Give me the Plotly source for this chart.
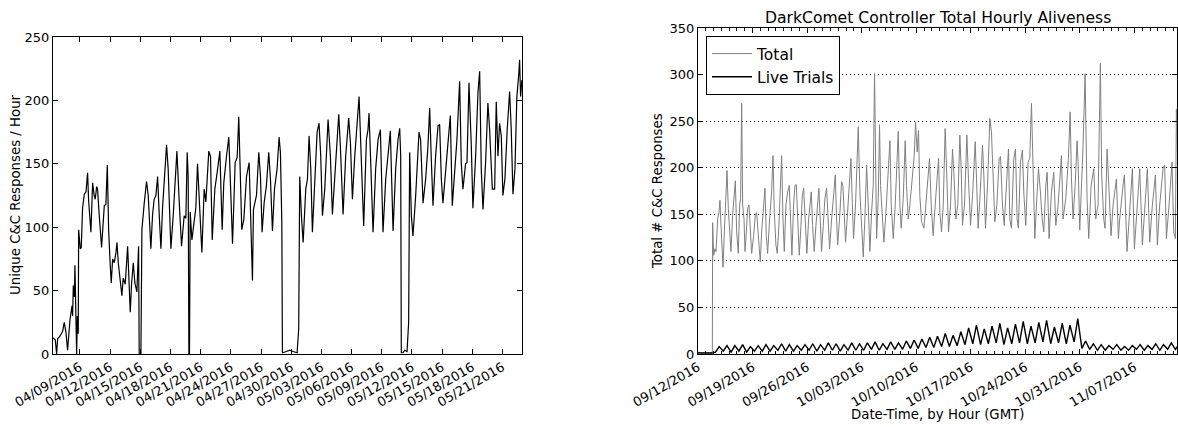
import pandas as pd
import plotly.graph_objects as go

# ---------------- data: left panel (days after 2016-04-09 00:00 GMT) ----------------
left_start = "2016-04-09"
left_days = [
    -2.72, -2.45, -2.32, -2.22, -1.99, -1.72, -1.56, -1.39, -1.23, -0.99, -0.79, -0.73, -0.66, -0.56,
    -0.50, -0.40, -0.33, -0.26, -0.20, -0.17, -0.13, 0.03, 0.13, 0.26, 0.43, 0.60, 0.76, 0.86, 1.09,
    1.26, 1.39, 1.52, 1.66, 1.75, 1.92, 2.15, 2.42, 2.58, 2.72, 2.85, 3.01, 3.11, 3.25, 3.41, 3.58,
    3.68, 3.81, 3.97, 4.07, 4.17, 4.30, 4.50, 4.74, 4.90, 5.00, 5.13, 5.30, 5.46, 5.66, 5.83, 5.89,
    6.06, 6.16, 6.39, 6.62, 6.79, 6.89, 7.05, 7.22, 7.38, 7.55, 7.72, 7.88, 8.05, 8.21, 8.38, 8.61,
    8.77, 8.94, 9.04, 9.27, 9.44, 9.64, 9.87, 10.10, 10.36, 10.53, 10.66, 10.76, 10.83, 10.89, 10.96,
    11.13, 11.36, 11.52, 11.69, 11.85, 12.12, 12.35, 12.52, 12.81, 12.98, 13.15, 13.41, 13.64, 13.91,
    14.14, 14.30, 14.57, 14.80, 14.97, 15.17, 15.43, 15.63, 15.79, 15.89, 16.09, 16.29, 16.56, 16.82,
    17.05, 17.15, 17.25, 17.55, 17.78, 17.95, 18.11, 18.31, 18.54, 18.77, 18.94, 19.14, 19.34, 19.60,
    19.80, 19.93, 20.07, 20.13, 20.53, 20.86, 21.19, 21.59, 21.75, 21.85, 22.02, 22.19, 22.45, 22.62,
    22.78, 22.95, 23.11, 23.34, 23.58, 23.77, 23.94, 24.11, 24.34, 24.67, 24.90, 25.10, 25.40, 25.73,
    25.89, 26.16, 26.42, 26.72, 26.89, 27.09, 27.32, 27.48, 27.75, 28.21, 28.48, 28.64, 28.74, 28.91,
    29.14, 29.40, 29.64, 29.87, 30.13, 30.40, 30.63, 30.86, 31.13, 31.39, 31.62, 31.79, 31.89, 31.95,
    32.12, 32.28, 32.52, 32.68, 32.78, 32.95, 33.11, 33.38, 33.71, 33.87, 34.11, 34.37, 34.60, 34.77,
    34.93, 35.10, 35.36, 35.60, 35.76, 35.93, 36.09, 36.36, 36.59, 36.82, 37.02, 37.25, 37.48, 37.75,
    37.91, 38.08, 38.34, 38.48, 38.68, 38.91, 39.07, 39.34, 39.57, 39.74, 39.90, 40.07, 40.33, 40.56,
    40.73, 41.00, 41.23, 41.39, 41.56, 41.72, 41.89, 42.05, 42.25, 42.48, 42.72, 42.88, 43.05, 43.25,
    43.44, 43.64, 43.71, 43.81, 43.94,
]
left_values = [
    13, 11, 0, 12, 14, 18, 25, 17, 3, 27, 38, 30, 54, 45,
    70, 0, 0, 30, 20, 16, 98, 83, 84, 115, 126, 128, 143, 121, 96,
    135, 126, 122, 132, 130, 109, 84, 117, 118, 149, 98, 70, 56, 75, 72, 80,
    88, 72, 62, 55, 46, 60, 55, 85, 60, 33, 55, 72, 56, 49, 85, 0,
    0, 98, 119, 136, 125, 109, 83, 110, 122, 125, 140, 110, 83, 115, 138, 165,
    146, 100, 83, 109, 130, 160, 120, 85, 109, 107, 159, 140, 0, 0, 112,
    90, 105, 115, 150, 125, 80, 130, 120, 160, 156, 90, 130, 143, 160,
    98, 135, 156, 171, 133, 87, 151, 155, 187, 156, 98, 106, 140, 151,
    98, 58, 114, 125, 159, 140, 96, 119, 133, 159, 138, 97, 130, 146,
    171, 159, 104, 1, 2, 3, 2, 1, 20, 140, 109, 88, 130, 138,
    172, 146, 96, 130, 175, 182, 156, 109, 130, 185, 156, 110, 146, 189,
    164, 110, 156, 186, 167, 122, 156, 177, 203, 101, 169, 177, 190, 151,
    96, 146, 169, 177, 96, 138, 159, 176, 97, 146, 169, 178, 156, 1,
    1, 3, 2, 25, 159, 109, 93, 125, 175, 169, 119, 138, 164, 194,
    154, 117, 156, 180, 181, 138, 119, 143, 167, 188, 117, 146, 169, 215,
    151, 130, 150, 151, 214, 164, 115, 156, 206, 223, 146, 114, 151, 198,
    177, 130, 130, 199, 156, 182, 172, 125, 138, 177, 207, 177, 126, 146,
    203, 222, 232, 203, 216,
]

# ---------------- data: right panel (days after 2016-09-12 00:00 GMT) ----------------
right_start = "2016-09-12"
total_days = [
    0.00, 0.50, 1.00, 1.50, 1.84, 1.88, 2.01, 2.18, 2.31, 2.52, 2.69, 2.82, 2.91, 3.03, 3.21, 3.38,
    3.55, 3.72, 3.89, 4.06, 4.23, 4.44, 4.62, 4.79, 4.96, 5.17, 5.34, 5.47, 5.60, 5.73, 5.90, 6.03,
    6.20, 6.37, 6.54, 6.71, 6.88, 7.14, 7.35, 7.52, 7.74, 7.99, 8.16, 8.38, 8.59, 8.76, 8.93, 9.19,
    9.44, 9.62, 9.79, 10.00, 10.17, 10.38, 10.56, 10.73, 10.90, 11.07, 11.28, 11.50, 11.71, 11.88,
    12.05, 12.26, 12.44, 12.61, 12.78, 12.99, 13.21, 13.38, 13.55, 13.72, 13.97, 14.19, 14.40, 14.53,
    14.70, 14.91, 15.13, 15.34, 15.51, 15.68, 15.85, 16.07, 16.28, 16.50, 16.71, 16.88, 17.14, 17.39,
    17.61, 17.78, 17.91, 18.16, 18.42, 18.59, 18.76, 18.93, 19.19, 19.44, 19.62, 19.79, 19.96, 20.21,
    20.43, 20.56, 20.77, 20.99, 21.20, 21.41, 21.63, 21.84, 22.05, 22.27, 22.48, 22.65, 22.78, 22.91,
    23.12, 23.29, 23.42, 23.64, 23.85, 24.11, 24.36, 24.62, 24.79, 25.05, 25.30, 25.52, 25.69, 25.90,
    26.07, 26.33, 26.58, 26.75, 26.97, 27.18, 27.48, 27.74, 27.91, 28.12, 28.29, 28.46, 28.68, 28.98,
    29.23, 29.53, 29.70, 29.92, 30.17, 30.43, 30.69, 30.86, 31.03, 31.24, 31.46, 31.71, 31.93, 32.14,
    32.40, 32.65, 32.82, 33.08, 33.33, 33.59, 33.76, 33.93, 34.19, 34.49, 34.70, 34.96, 35.22, 35.56,
    35.73, 35.94, 36.16, 36.50, 36.67, 36.88, 37.14, 37.44, 37.65, 37.87, 38.08, 38.34, 38.64, 38.81,
    39.06, 39.28, 39.58, 39.83, 40.00, 40.21, 40.51, 40.73, 40.94, 41.11, 41.37, 41.62, 41.79, 42.05,
    42.35, 42.56, 42.78, 42.99, 43.21, 43.42, 43.68, 43.93, 44.15, 44.36, 44.62, 44.79, 45.04, 45.34,
    45.64, 45.90, 46.20, 46.62, 46.84, 47.18, 47.52, 47.74, 47.91, 48.12, 48.38, 48.63, 48.76, 48.97,
    49.23, 49.40, 49.66, 49.79, 49.91, 50.13, 50.43, 50.77, 51.03, 51.32, 51.62, 51.79, 52.05, 52.22,
    52.48, 52.74, 52.99, 53.25, 53.68, 53.93, 54.10, 54.53, 54.70, 55.04, 55.38, 55.73, 55.98, 56.32,
    56.67, 57.01, 57.31, 57.65, 57.95, 58.29, 58.68, 58.93, 59.23, 59.66, 59.87, 60.09, 60.43, 60.81,
    61.03, 61.24, 61.37, 61.50,
]
total_values = [
    2, 1, 2, 1, 2, 141, 106, 113, 110, 145, 152, 165, 145, 124, 93, 131,
    160, 197, 156, 131, 110, 149, 174, 186, 131, 108, 160, 167, 269, 160, 145, 110,
    131, 156, 160, 127, 108, 127, 149, 152, 127, 99, 131, 152, 178, 127, 108, 145,
    174, 213, 152, 117, 108, 138, 172, 213, 145, 110, 160, 174, 181, 145,
    106, 160, 181, 182, 145, 106, 138, 170, 178, 145, 108, 145, 170, 174,
    138, 110, 138, 167, 178, 145, 110, 138, 167, 178, 145, 113, 145, 174,
    192, 145, 117, 145, 185, 181, 145, 120, 152, 188, 210, 163, 124, 160,
    217, 244, 174, 131, 104, 145, 203, 160, 110, 152, 181, 301, 181, 124,
    167, 246, 181, 145, 120, 152, 192, 229, 160, 124, 160, 210, 239, 160,
    135, 167, 229, 181, 145, 160, 192, 213, 249, 217, 240, 170, 142, 135,
    160, 188, 210, 160, 127, 160, 188, 210, 152, 131, 160, 242, 188, 131,
    160, 220, 195, 145, 160, 235, 199, 138, 160, 235, 188, 138, 170, 228,
    188, 135, 167, 224, 192, 135, 181, 253, 238, 188, 142, 160, 210, 212,
    160, 138, 181, 220, 145, 135, 210, 220, 145, 135, 206, 219, 174, 138,
    206, 210, 269, 181, 124, 160, 199, 174, 145, 131, 181, 195, 124, 174,
    195, 138, 160, 213, 145, 167, 210, 260, 188, 145, 181, 229, 206, 133,
    181, 224, 301, 210, 167, 124, 181, 199, 145, 160, 312, 192, 145, 135,
    220, 174, 127, 160, 188, 124, 145, 181, 192, 110, 160, 199, 113, 160,
    199, 117, 160, 199, 120, 160, 192, 117, 160, 199, 203, 124, 160, 206,
    131, 124, 263, 217,
]

# Live trials: daily trough and peak, for days 2 .. 61 after 09/12
live_first_day = 2
live_troughs = [
    2, 3, 2, 3, 2, 3,
    3, 3, 4, 3, 3, 4,
    4, 3, 4, 4, 3, 4, 4,
    4, 5, 4, 5, 5, 5, 6,
    6, 7, 7, 8, 8,
    9, 10, 11, 10, 11, 12, 10, 11,
    12, 11, 12, 13, 11, 12, 11, 13,
    6, 5, 4, 4, 5, 4, 4, 5, 4, 5, 4, 5, 5,
]
live_peaks = [
    8, 9, 9, 10, 8, 9,
    10, 9, 11, 10, 9, 10,
    11, 10, 12, 11, 10, 12, 11,
    12, 13, 11, 13, 12, 14, 15,
    16, 18, 19, 22, 20,
    24, 28, 31, 27, 30, 33, 28, 32,
    35, 30, 34, 36, 29, 33, 31, 38,
    14, 11, 10, 9, 10, 8, 9, 10, 9, 11, 10, 12, 11,
]
live_pre_days = [0.0, 0.6, 1.2, 1.84]
live_pre_values = [1, 1, 1, 1]

# ---------------- build ----------------
def to_dates(start, days):
    return pd.Timestamp(start) + pd.to_timedelta(pd.Series(days, dtype=float), unit="D")

left_x = to_dates(left_start, left_days)
total_x = to_dates(right_start, total_days)

live_d = list(live_pre_days)
live_v = list(live_pre_values)
for i, (lo, hi) in enumerate(zip(live_troughs, live_peaks)):
    day = live_first_day + i
    live_d += [day + 0.25, day + 0.72]
    live_v += [lo, hi]
live_x = to_dates(right_start, live_d)

W, H = 1178, 427
def px(x):
    return x / W
def py(y):
    return 1 - y / H

FONT = "DejaVu Sans, Arial, sans-serif"
TICK = 13
fig = go.Figure()

fig.add_trace(go.Scatter(x=left_x, y=left_values, mode="lines",
                         line=dict(color="black", width=1.2), showlegend=False,
                         xaxis="x", yaxis="y"))
fig.add_trace(go.Scatter(x=total_x, y=total_values, mode="lines", name="Total",
                         line=dict(color="#808080", width=1),
                         xaxis="x2", yaxis="y2"))
fig.add_trace(go.Scatter(x=live_x, y=live_v, mode="lines", name="Live Trials",
                         line=dict(color="black", width=1.4),
                         xaxis="x2", yaxis="y2"))

axis_common = dict(showline=True, linecolor="black", linewidth=1, mirror="allticks",
                   ticks="inside", ticklen=5, tickcolor="black", tickwidth=1,
                   zeroline=False, automargin=False,
                   tickfont=dict(family=FONT, size=TICK, color="black"))

day_ms = 86400000
left_range = [pd.Timestamp(left_start) + pd.Timedelta(days=-2.68),
              pd.Timestamp(left_start) + pd.Timedelta(days=43.95)]
right_range = [pd.Timestamp(right_start), pd.Timestamp(right_start) + pd.Timedelta(days=61.45)]

fig.update_layout(
    width=W, height=H,
    margin=dict(l=0, r=0, t=0, b=0, autoexpand=False),
    paper_bgcolor="white", plot_bgcolor="white",
    font=dict(family=FONT, size=TICK, color="black"),
    xaxis=dict(domain=[px(53), px(522)], anchor="y", type="date",
               range=left_range, tick0=left_start, dtick=3 * day_ms,
               tickformat="%m/%d/%Y", tickangle=-30, showgrid=False, **axis_common),
    yaxis=dict(domain=[py(354), py(37)], anchor="x", range=[0, 250], dtick=50,
               showgrid=False, **axis_common),
    xaxis2=dict(domain=[px(698), px(1177)], anchor="y2", type="date",
                range=right_range, tick0=right_start, dtick=7 * day_ms,
                tickformat="%m/%d/%Y", tickangle=-30, showgrid=False,
                minor=dict(dtick=day_ms, ticks="inside", ticklen=3, tickcolor="black",
                           showgrid=False),
                **axis_common),
    yaxis2=dict(domain=[py(354), py(28)], anchor="x2", range=[0, 350], dtick=50,
                showgrid=True, gridcolor="black", griddash="1px,3px", gridwidth=1,
                **axis_common),
    legend=dict(x=px(706), y=py(36), xanchor="left", yanchor="top",
                bordercolor="black", borderwidth=1, bgcolor="white",
                font=dict(family=FONT, size=15.5, color="black"),
                tracegroupgap=0, itemwidth=40),
    annotations=[
        dict(text="Unique C&C Responses / Hour", x=px(15), y=py(195), xref="paper", yref="paper",
             xanchor="center", yanchor="middle",
             textangle=-90, showarrow=False, font=dict(family=FONT, size=13.3)),
        dict(text="Total # C&C Responses", x=px(657), y=py(191), xref="paper", yref="paper",
             xanchor="center", yanchor="middle",
             textangle=-90, showarrow=False, font=dict(family=FONT, size=13.3)),
        dict(text="DarkComet Controller Total Hourly Aliveness", x=px(938), y=py(18),
             xref="paper", yref="paper", xanchor="center", yanchor="middle",
             showarrow=False, font=dict(family=FONT, size=15.6)),
        dict(text="Date-Time, by Hour (GMT)", x=px(937), y=py(414), xref="paper", yref="paper",
             xanchor="center", yanchor="middle",
             showarrow=False, font=dict(family=FONT, size=13.3)),
    ],
)

fig.write_html(
    "out.html",
    config={"displayModeBar": False},
    post_script="document.body.style.margin='0';document.body.style.overflow='hidden';",
)
